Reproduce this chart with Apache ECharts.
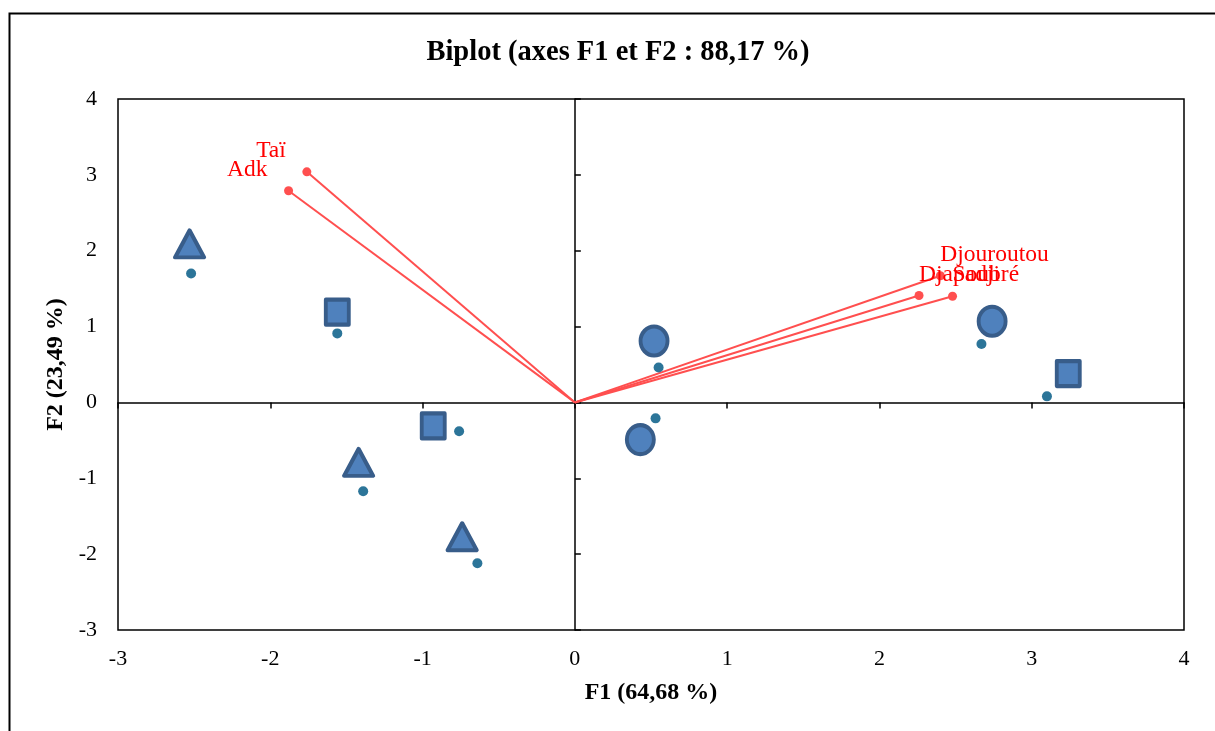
<!DOCTYPE html>
<html>
<head>
<meta charset="utf-8">
<script src="https://cdn.jsdelivr.net/npm/echarts@6/dist/echarts.min.js"></script>
<style>html,body{margin:0;padding:0;background:#fff}#c{width:1215px;height:731px}</style>
</head>
<body>
<div id="c"></div>
<script>
// Observations: large marker positions
const triangles = [[-2.53, 2.09], [-1.42, -0.79], [-0.74, -1.77]];
const squares = [[-1.56, 1.19], [-0.93, -0.31], [3.24, 0.38]];
const circles = [[0.52, 0.81], [0.43, -0.49], [2.74, 1.07]];
// Observations: small dots
const dots = [[-2.52, 1.70], [-1.56, 0.91], [-0.76, -0.38], [-1.39, -1.17], [-0.64, -2.12],
              [0.55, 0.46], [0.53, -0.21], [2.67, 0.77], [3.10, 0.08]];
// Variables (vectors)
const varNames = ['Taï', 'Adk', 'Djouroutou', 'Djapadji', 'Soubré'];
const varX = [-1.76, -1.88, 2.40, 2.26, 2.48];
const varY = [3.04, 2.79, 1.67, 1.41, 1.40];
const xTicks = [-3, 4, 1];
const yTicks = [-3, 4, 1];

const serif = 'Liberation Serif';
const chart = echarts.init(document.getElementById('c'));

const vectorSeries = varNames.map((n, i) => {
  const left = varX[i] < 0;
  return {
    type: 'line',
    name: n,
    xAxisIndex: 0, yAxisIndex: 0,
    silent: true,
    z: 3,
    lineStyle: { color: '#FF4F4F', width: 2 },
    itemStyle: { color: '#FF4F4F', opacity: 1 },
    data: [
      { value: [0, 0], symbol: 'none' },
      {
        value: [varX[i], varY[i]], symbol: 'circle', symbolSize: 9,
        label: {
          show: true, formatter: n, position: 'inside',
          align: left ? 'right' : 'left', verticalAlign: 'middle',
          offset: left ? [-21, -21] : [0, -21],
          color: '#FF0000', fontFamily: serif, fontSize: 23.5
        }
      }
    ],
    animation: false
  };
});

const bigStyle = { color: '#4F81BD', borderColor: '#385D8A', borderWidth: 4, opacity: 1, borderJoin: 'round' };

chart.setOption({
  animation: false,
  backgroundColor: '#fff',
  title: {
    text: 'Biplot (axes F1 et F2 : 88,17 %)',
    left: 613, top: 33, textAlign: 'center',
    textStyle: { fontFamily: serif, fontWeight: 'bold', fontSize: 28.5, color: '#000' }
  },
  graphic: [{
    type: 'rect', left: 7, top: 11, silent: true,
    shape: { width: 1300, height: 800 },
    style: { fill: 'none', stroke: '#000', lineWidth: 2 }
  }],
  grid: { left: 118, right: 31, top: 99, bottom: 101, show: true, borderColor: '#000', borderWidth: 1.5, backgroundColor: 'transparent' },
  xAxis: [{
    type: 'value', min: xTicks[0], max: xTicks[1], interval: xTicks[2], position: 'bottom',
    axisLine: { show: false, onZero: false }, axisTick: { show: false }, splitLine: { show: false },
    axisLabel: { fontFamily: serif, fontSize: 22, color: '#000', margin: 18 },
    name: 'F1 (64,68 %)', nameLocation: 'middle', nameGap: 51,
    nameTextStyle: { fontFamily: serif, fontWeight: 'bold', fontSize: 24, color: '#000' }
  }, {
    type: 'value', min: xTicks[0], max: xTicks[1], interval: xTicks[2], position: 'bottom',
    axisLine: { show: true, onZero: true, onZeroAxisIndex: 0, lineStyle: { color: '#000', width: 1.5 } },
    axisTick: { show: true, inside: false, length: 6, lineStyle: { color: '#000', width: 1.5 } },
    axisLabel: { show: false }, splitLine: { show: false }
  }],
  yAxis: [{
    type: 'value', min: yTicks[0], max: yTicks[1], interval: yTicks[2], position: 'left',
    axisLine: { show: false, onZero: false }, axisTick: { show: false }, splitLine: { show: false },
    axisLabel: { fontFamily: serif, fontSize: 22, color: '#000', margin: 21 },
    name: 'F2 (23,49 %)', nameLocation: 'middle', nameGap: 48,
    nameTextStyle: { fontFamily: serif, fontWeight: 'bold', fontSize: 24, color: '#000' }
  }, {
    type: 'value', min: yTicks[0], max: yTicks[1], interval: yTicks[2], position: 'left',
    axisLine: { show: true, onZero: true, onZeroAxisIndex: 0, lineStyle: { color: '#000', width: 1.5 } },
    axisTick: { show: true, inside: true, length: 6, lineStyle: { color: '#000', width: 1.5 } },
    axisLabel: { show: false }, splitLine: { show: false }
  }],
  series: [
    ...vectorSeries,
    { type: 'scatter', name: 'dots', data: dots, symbol: 'circle', symbolSize: 10, itemStyle: { color: '#2C7599', opacity: 1 }, z: 4 },
    { type: 'scatter', name: 'tri', data: triangles, symbol: 'triangle', symbolSize: [29, 27], itemStyle: bigStyle, z: 5 },
    { type: 'scatter', name: 'sq', data: squares, symbol: 'rect', symbolSize: [23, 25], itemStyle: bigStyle, z: 5 },
    { type: 'scatter', name: 'circ', data: circles, symbol: 'circle', symbolSize: [27, 29], itemStyle: bigStyle, z: 5 }
  ]
});
</script>
</body>
</html>
